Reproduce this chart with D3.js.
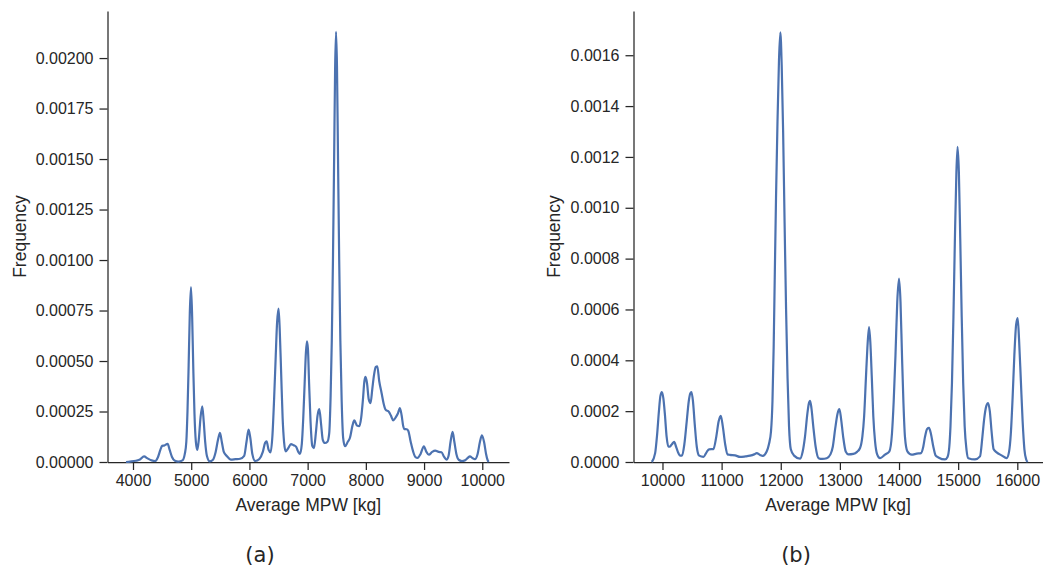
<!DOCTYPE html>
<html>
<head>
<meta charset="utf-8">
<script src="https://cdn.jsdelivr.net/npm/d3@7.9.0/dist/d3.min.js"></script>
<style>
  body { margin: 0; background: #fff; }
  svg text { font-family: "Liberation Sans", Arial, sans-serif; fill: #262626; }
  .axis path, .axis line { stroke: #262626; stroke-width: 1.25; }
  .caption { font-family: "DejaVu Sans", sans-serif !important; }
</style>
</head>
<body>
<svg id="chart" width="1045" height="569"></svg>
<script>
// KDE of average MPW, panel (a): [kg, frequency]
const kdeA = [
  [3880, 0], [3950, 0.000002], [4050, 0.000006], [4120, 0.000012], [4190, 0.000028],
  [4250, 0.000018], [4320, 0.000008], [4380, 0.000005], [4430, 0.000025], [4470, 0.00006],
  [4500, 0.00008], [4540, 0.000082], [4595, 0.00009], [4630, 0.00006], [4670, 0.000025],
  [4720, 0.000006], [4780, 0.000002], [4850, 0.000008], [4890, 0.00004], [4916, 0.0001],
  [4936, 0.00025], [4956, 0.00048], [4976, 0.00074], [4996, 0.000866], [5016, 0.00072],
  [5036, 0.00046], [5056, 0.00024], [5080, 0.0001], [5105, 0.00006], [5130, 0.00011],
  [5160, 0.00022], [5190, 0.000276], [5215, 0.0002], [5240, 0.0001], [5270, 0.00003],
  [5320, 0.000003], [5370, 0.00001], [5420, 0.00005], [5460, 0.00011], [5494, 0.000144],
  [5525, 0.0001], [5560, 0.00005], [5610, 0.00003], [5680, 0.000012], [5760, 0.000014],
  [5840, 0.000016], [5910, 0.00003], [5950, 0.0001], [5986, 0.00016], [6015, 0.00012],
  [6050, 0.00004], [6100, 0.000005], [6170, 0.000015], [6230, 0.00005], [6270, 0.000095],
  [6295, 0.000102], [6330, 0.00006], [6364, 0.000048], [6395, 0.00013], [6425, 0.00032],
  [6450, 0.00051], [6475, 0.00069], [6500, 0.00076], [6520, 0.00066], [6545, 0.00044],
  [6570, 0.00022], [6595, 0.0001], [6622, 0.000053], [6670, 0.00007], [6713, 0.000089],
  [6760, 0.000083], [6800, 0.000076], [6840, 0.00005], [6868, 0.00004], [6900, 0.00009],
  [6925, 0.00022], [6950, 0.0004], [6970, 0.00054], [6988, 0.000597], [7005, 0.00056],
  [7025, 0.00039], [7050, 0.0002], [7080, 0.00008], [7108, 0.000069], [7140, 0.00014],
  [7170, 0.00023], [7200, 0.000262], [7230, 0.00019], [7260, 0.00011], [7297, 0.000094],
  [7340, 0.0001], [7370, 0.00014], [7395, 0.00033], [7415, 0.0006], [7435, 0.001],
  [7455, 0.0015], [7472, 0.00195], [7488, 0.00213], [7504, 0.00196], [7522, 0.0015],
  [7542, 0.001], [7562, 0.0006], [7585, 0.0003], [7610, 0.00012], [7641, 0.000078],
  [7690, 0.0001], [7727, 0.00012], [7770, 0.00018], [7801, 0.000206], [7850, 0.00018],
  [7887, 0.000177], [7920, 0.00022], [7950, 0.00031], [7975, 0.0004], [7995, 0.000421],
  [8020, 0.00039], [8050, 0.00031], [8081, 0.000292], [8110, 0.00036], [8140, 0.00043],
  [8170, 0.00047], [8196, 0.000474], [8230, 0.0004], [8270, 0.000342], [8305, 0.00029],
  [8339, 0.000259], [8396, 0.000248], [8430, 0.00023], [8470, 0.000206], [8510, 0.00022],
  [8550, 0.00024], [8585, 0.000267], [8615, 0.00023], [8640, 0.00018], [8660, 0.000163],
  [8700, 0.000162], [8728, 0.000155], [8770, 0.0001], [8814, 0.00005], [8850, 0.000025],
  [8889, 0.00002], [8940, 0.00004], [8997, 0.000078], [9040, 0.00005], [9083, 0.000036],
  [9140, 0.00005], [9192, 0.000056], [9250, 0.00005], [9300, 0.000048], [9345, 0.000025],
  [9386, 0.000012], [9420, 0.00003], [9455, 0.0001], [9490, 0.000149], [9520, 0.0001],
  [9555, 0.00004], [9600, 0.00001], [9650, 0.000005], [9702, 0.000008], [9750, 0.00002],
  [9788, 0.000028], [9830, 0.00002], [9874, 0.000014], [9920, 0.00004], [9960, 0.0001],
  [9994, 0.000132], [10030, 0.0001], [10065, 0.00004], [10090, 0.00001], [10109, 0]
];

// panel (b)
const kdeB = [
  [9820, 0], [9876, 0.000035], [9910, 0.00011], [9940, 0.0002], [9965, 0.00026],
  [9989, 0.000275], [10015, 0.00025], [10040, 0.00019], [10070, 0.0001], [10100, 0.00006],
  [10118, 0.00006], [10160, 0.00007], [10197, 0.000079], [10230, 0.00006], [10260, 0.00004],
  [10300, 0.000025], [10330, 0.000025], [10370, 0.00007], [10410, 0.00016], [10445, 0.00024],
  [10470, 0.00027], [10490, 0.000275], [10515, 0.00024], [10545, 0.00015], [10580, 0.00006],
  [10620, 0.000025], [10693, 0.00002], [10750, 0.00004], [10789, 0.00005], [10862, 0.000051],
  [10910, 0.0001], [10950, 0.00016], [10986, 0.000182], [11020, 0.00014], [11060, 0.00007],
  [11100, 0.00003], [11140, 0.000028], [11228, 0.000026], [11313, 0.00002], [11400, 0.000022],
  [11482, 0.000025], [11550, 0.00003], [11594, 0.000035], [11650, 0.000028], [11696, 0.000024],
  [11760, 0.00004], [11800, 0.00007], [11835, 0.00012], [11860, 0.00024], [11880, 0.00045],
  [11900, 0.00075], [11920, 0.00104], [11945, 0.00134], [11970, 0.00158], [11993, 0.00169],
  [12016, 0.00156], [12040, 0.0013], [12065, 0.00094], [12090, 0.0006], [12115, 0.00033],
  [12140, 0.00014], [12170, 0.00005], [12225, 0.000025], [12327, 0.000013], [12370, 0.00004],
  [12410, 0.0001], [12450, 0.00019], [12475, 0.00023], [12496, 0.000241], [12520, 0.00021],
  [12550, 0.00014], [12590, 0.00006], [12640, 0.000015], [12700, 0.000012], [12777, 0.000015],
  [12840, 0.00003], [12880, 0.00006], [12920, 0.00013], [12960, 0.00019], [12992, 0.000208],
  [13020, 0.00017], [13055, 0.0001], [13100, 0.00004], [13144, 0.00003], [13228, 0.000032],
  [13290, 0.00004], [13341, 0.000055], [13380, 0.0001], [13410, 0.00018], [13440, 0.00033],
  [13465, 0.00045], [13493, 0.000531], [13515, 0.00047], [13540, 0.00033], [13565, 0.00018],
  [13595, 0.00008], [13630, 0.00003], [13679, 0.000015], [13763, 0.000029], [13837, 0.000042],
  [13880, 0.00011], [13910, 0.00024], [13940, 0.00042], [13970, 0.00063], [14000, 0.000721],
  [14025, 0.00063], [14050, 0.00042], [14075, 0.00023], [14100, 0.0001], [14141, 0.000042],
  [14214, 0.000029], [14299, 0.000033], [14372, 0.000035], [14410, 0.00006], [14440, 0.0001],
  [14475, 0.00013], [14507, 0.000134], [14540, 0.00011], [14580, 0.00006], [14620, 0.000025],
  [14665, 0.000018], [14777, 0.00001], [14820, 0.00002], [14850, 0.00006], [14870, 0.00014],
  [14895, 0.00031], [14920, 0.00057], [14945, 0.00088], [14970, 0.00114], [14990, 0.00124],
  [15012, 0.00114], [15035, 0.00088], [15060, 0.00057], [15085, 0.00031], [15110, 0.00014],
  [15140, 0.00005], [15172, 0.000015], [15284, 0.00001], [15369, 0.000022], [15410, 0.0001],
  [15440, 0.00017], [15475, 0.00022], [15505, 0.000232], [15535, 0.0002], [15565, 0.00012],
  [15600, 0.00005], [15651, 0.000038], [15735, 0.000026], [15820, 0.000015], [15860, 0.00004],
  [15890, 0.00011], [15920, 0.00025], [15950, 0.00042], [15980, 0.00054], [16006, 0.000566],
  [16030, 0.00048], [16060, 0.00032], [16090, 0.00016], [16120, 0.00005], [16150, 0.00001],
  [16175, 0]
];

const xTicksA = [4000, 5000, 6000, 7000, 8000, 9000, 10000];
const yTicksA = [0, 0.00025, 0.0005, 0.00075, 0.001, 0.00125, 0.0015, 0.00175, 0.002];
const xTicksB = [10000, 11000, 12000, 13000, 14000, 15000, 16000];
const yTicksB = [0, 0.0002, 0.0004, 0.0006, 0.0008, 0.001, 0.0012, 0.0014, 0.0016];

const svg = d3.select('#chart');

function drawPanel(cfg) {
  const x = d3.scaleLinear().domain(cfg.xDomain).range([cfg.left, cfg.right]);
  const y = d3.scaleLinear().domain(cfg.yDomain).range([cfg.bottom, cfg.top]);

  const g = svg.append('g');

  g.append('g')
    .attr('class', 'axis')
    .attr('transform', `translate(0,${cfg.bottom})`)
    .call(d3.axisBottom(x).tickValues(cfg.xTicks).tickSize(8).tickSizeOuter(0).tickPadding(5)
      .tickFormat(d3.format('d')))
    .call(a => a.selectAll('text').style('font-size', '16px').attr('fill', '#262626'));

  g.append('g')
    .attr('class', 'axis')
    .attr('transform', `translate(${cfg.left},0)`)
    .call(d3.axisLeft(y).tickValues(cfg.yTicks).tickSize(8).tickSizeOuter(0).tickPadding(6)
      .tickFormat(d => d.toFixed(cfg.decimals)))
    .call(a => a.selectAll('text').style('font-size', '16px').attr('fill', '#262626'));

  const line = d3.line()
    .x(d => x(d[0]))
    .y(d => y(d[1]))
    .curve(d3.curveMonotoneX);

  g.append('path')
    .datum(cfg.data)
    .attr('fill', 'none')
    .attr('stroke', '#4c72b0')
    .attr('stroke-width', 2.2)
    .attr('stroke-linejoin', 'round')
    .attr('d', line);

  g.append('text')
    .attr('x', (cfg.left + cfg.right) / 2)
    .attr('y', 511)
    .attr('text-anchor', 'middle')
    .style('font-size', '17.5px')
    .text('Average MPW [kg]');

  g.append('text')
    .attr('transform', `translate(${cfg.ylabelX},${(cfg.top + cfg.bottom) / 2}) rotate(-90)`)
    .attr('text-anchor', 'middle')
    .style('font-size', '17.5px')
    .text('Frequency');

  g.append('text')
    .attr('class', 'caption')
    .attr('x', cfg.captionX)
    .attr('y', 562)
    .attr('text-anchor', 'middle')
    .style('font-size', '21px')
    .text(cfg.caption);
}

drawPanel({
  data: kdeA, xDomain: [3562, 10459], yDomain: [0, 0.002233],
  xTicks: xTicksA, yTicks: yTicksA, decimals: 5,
  left: 107.5, right: 509, top: 11, bottom: 462,
  ylabelX: 26, captionX: 260, caption: '(a)'
});

drawPanel({
  data: kdeB, xDomain: [9510, 16426], yDomain: [0, 0.001774],
  xTicks: xTicksB, yTicks: yTicksB, decimals: 4,
  left: 633.5, right: 1042.5, top: 11, bottom: 462,
  ylabelX: 560, captionX: 796, caption: '(b)'
});
</script>
</body>
</html>
